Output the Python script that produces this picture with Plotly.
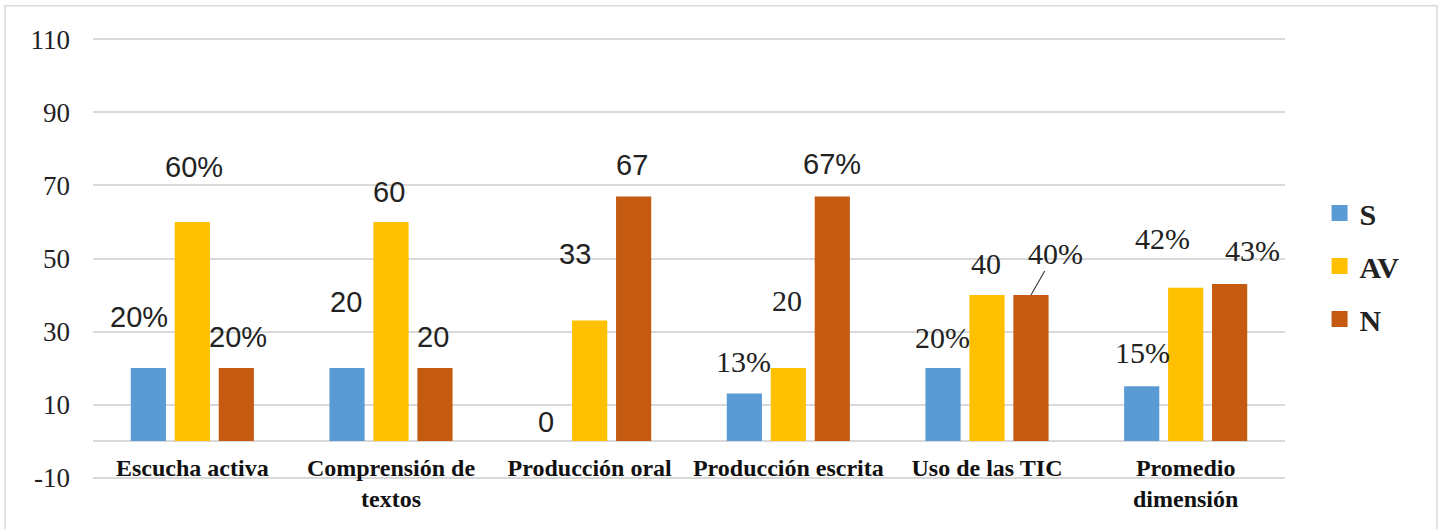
import plotly.graph_objects as go

# ---------------- data ----------------
categories = ["Escucha activa", "Comprensión de<br>textos", "Producción oral",
              "Producción escrita", "Uso de las TIC", "Promedio<br>dimensión"]
series_names = ["S", "AV", "N"]
values_S = [20, 20, 0, 13, 20, 15]
values_AV = [60, 60, 33, 20, 40, 42]
values_N = [20, 20, 67, 67, 40, 43]
labels_S = ["20%", "20", "0", "13%", "20%", "15%"]
labels_AV = ["60%", "60", "33", "20", "40", "42%"]
labels_N = ["20%", "20", "67", "67%", "40%", "43%"]
y_ticks = [-10, 10, 30, 50, 70, 90, 110]

# ---------------- styles ----------------
colors = ["#5B9BD5", "#FFC000", "#C55A11"]
bar_shift = [-44, 0, 44]          # pixel offset of each series' bar in its group
# label pixel offsets (dx, dy up) relative to the top-centre of each bar
offsets_S = [(-9, 51), (-1, 66), (0, 19), (-1, 32), (-1, 31), (1, 34)]
offsets_AV = [(2, 55), (-2, 30), (-15, 67), (-1, 68), (-1, 32), (-23, 49)]
offsets_N = [(2, 31), (-2, 31), (-2, 31), (0, 32), (24, 42), (23, 34)]
fonts_S = ["sans", "sans", "sans", "serif", "serif", "serif"]
fonts_AV = ["sans", "sans", "sans", "serif", "serif", "serif"]
fonts_N = ["sans", "sans", "sans", "sans", "serif", "serif"]
leader_line = [False, False, False, False, True, False]  # N series only

SERIF = "Liberation Serif, Times New Roman, serif"
SANS = "Liberation Sans, Arial, sans-serif"
GRID = "#D9D9D9"
Y_RANGE = [-10.4, 110.4]

fig = go.Figure()
all_vals = [values_S, values_AV, values_N]
for name, vals, col in zip(series_names, all_vals, colors):
    fig.add_trace(go.Bar(name=name, x=categories, y=vals, marker_color=col,
                         marker_line_width=0, legendgroup=name, showlegend=False))
# legend entries with larger square swatches
for name, col in zip(series_names, colors):
    fig.add_trace(go.Scatter(name=name, x=[None], y=[None], mode="markers",
                             marker=dict(symbol="square", size=16, color=col),
                             legendgroup=name, showlegend=True))

annotations = []
all_labels = [labels_S, labels_AV, labels_N]
all_offsets = [offsets_S, offsets_AV, offsets_N]
all_fonts = [fonts_S, fonts_AV, fonts_N]
for si in range(3):
    for ci, cat in enumerate(categories):
        dx, dy = all_offsets[si][ci]
        fam = SANS if all_fonts[si][ci] == "sans" else SERIF
        size = 29 if all_fonts[si][ci] == "sans" else 30
        if si == 2 and leader_line[ci]:
            annotations.append(dict(
                x=cat, y=all_vals[si][ci], xref="x", yref="y",
                xshift=bar_shift[si], text=all_labels[si][ci],
                showarrow=True, arrowhead=0, arrowwidth=1.2, arrowcolor="#404040",
                ax=dx, ay=-dy, font=dict(family=fam, size=size, color="#222222"),
                standoff=0, startstandoff=0))
        else:
            annotations.append(dict(
                x=cat, y=all_vals[si][ci], xref="x", yref="y",
                xshift=bar_shift[si] + dx, yshift=dy, text=all_labels[si][ci],
                showarrow=False, xanchor="center", yanchor="middle",
                font=dict(family=fam, size=size, color="#222222")))

fig.update_layout(
    width=1440, height=529,
    margin=dict(l=93, r=155, t=38, b=50, autoexpand=False),
    paper_bgcolor="white", plot_bgcolor="white",
    barmode="group", bargap=0.336, bargroupgap=0.2,
    annotations=annotations,
    legend=dict(x=1.029, y=0.662, xanchor="left", yanchor="top",
                font=dict(family=SERIF, size=30, color="#222222", weight="bold"),
                traceorder="grouped", tracegroupgap=11, itemwidth=30,
                itemsizing="trace", bgcolor="rgba(0,0,0,0)"),
    shapes=[dict(type="rect", xref="paper", yref="paper",
                 x0=-0.0738, x1=1.1275, y0=-0.2, y1=1.073,
                 line=dict(color=GRID, width=1.5), layer="below")],
)
fig.update_yaxes(range=Y_RANGE, tickmode="array", tickvals=y_ticks,
                 ticktext=[str(v) for v in y_ticks], automargin=False,
                 showgrid=True, gridcolor=GRID, gridwidth=1.5,
                 zeroline=True, zerolinecolor=GRID, zerolinewidth=1.5,
                 showline=False, ticks="", ticklabelstandoff=22,
                 tickfont=dict(family=SERIF, size=27, color="#222222"))
fig.update_xaxes(anchor="free", position=(0 - Y_RANGE[0]) / (Y_RANGE[1] - Y_RANGE[0]),
                 showline=False, ticks="", automargin=False,
                 showgrid=False, ticklabelstandoff=10,
                 tickfont=dict(family=SERIF, size=24, color="#111111", weight="bold"))

fig.write_html("out.html", config={"displayModeBar": False},
               post_script="document.body.style.margin='0';document.body.style.overflow='hidden';")
